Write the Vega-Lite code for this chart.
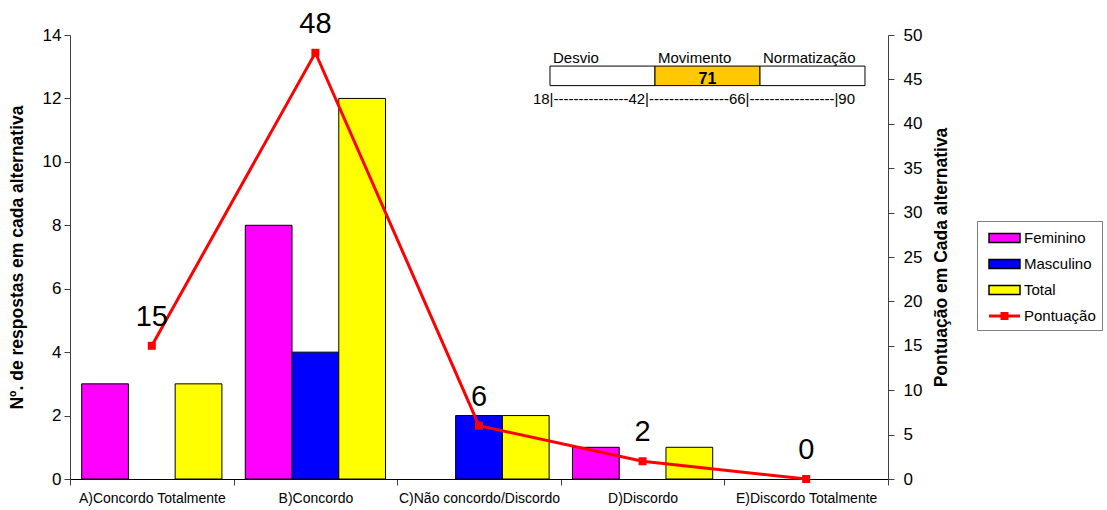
{
  "$schema": "https://vega.github.io/schema/vega-lite/v6.json",
  "width": 818,
  "height": 444,
  "autosize": "none",
  "padding": {"left": 70, "top": 35, "right": 219, "bottom": 31},
  "background": "white",
  "config": {
    "font": "Liberation Sans",
    "view": {"stroke": null},
    "axis": {"grid": false, "domainColor": "#404040", "tickColor": "#404040", "labelColor": "black", "titleColor": "black", "labelFont": "Liberation Sans", "titleFont": "Liberation Sans"}
  },
  "datasets": {
    "respostas": [
      {"alternativa": "A)Concordo Totalmente", "serie": "Feminino", "respostas": 3},
      {"alternativa": "A)Concordo Totalmente", "serie": "Masculino", "respostas": 0},
      {"alternativa": "A)Concordo Totalmente", "serie": "Total", "respostas": 3},
      {"alternativa": "B)Concordo", "serie": "Feminino", "respostas": 8},
      {"alternativa": "B)Concordo", "serie": "Masculino", "respostas": 4},
      {"alternativa": "B)Concordo", "serie": "Total", "respostas": 12},
      {"alternativa": "C)Não concordo/Discordo", "serie": "Feminino", "respostas": 0},
      {"alternativa": "C)Não concordo/Discordo", "serie": "Masculino", "respostas": 2},
      {"alternativa": "C)Não concordo/Discordo", "serie": "Total", "respostas": 2},
      {"alternativa": "D)Discordo", "serie": "Feminino", "respostas": 1},
      {"alternativa": "D)Discordo", "serie": "Masculino", "respostas": 0},
      {"alternativa": "D)Discordo", "serie": "Total", "respostas": 1},
      {"alternativa": "E)Discordo Totalmente", "serie": "Feminino", "respostas": 0},
      {"alternativa": "E)Discordo Totalmente", "serie": "Masculino", "respostas": 0},
      {"alternativa": "E)Discordo Totalmente", "serie": "Total", "respostas": 0}
    ],
    "pontuacao": [
      {"alternativa": "A)Concordo Totalmente", "pontos": 15},
      {"alternativa": "B)Concordo", "pontos": 48},
      {"alternativa": "C)Não concordo/Discordo", "pontos": 6},
      {"alternativa": "D)Discordo", "pontos": 2},
      {"alternativa": "E)Discordo Totalmente", "pontos": 0}
    ],
    "faixas": [
      {"faixa": "Desvio", "ini": 18, "fim": 42},
      {"faixa": "Movimento", "ini": 42, "fim": 66},
      {"faixa": "Normatização", "ini": 66, "fim": 90}
    ],
    "escala": [{"texto": "18|---------------42|----------------66|-----------------|90"}],
    "resultado": [{"valor": 71}]
  },
  "layer": [
    {
      "data": {"name": "respostas"},
      "transform": [{"filter": "datum.respostas > 0"}],
      "mark": {"type": "bar", "stroke": "black", "strokeWidth": 1},
      "encoding": {
        "x": {"field": "alternativa", "type": "nominal",
          "scale": {"domain": ["A)Concordo Totalmente", "B)Concordo", "C)Não concordo/Discordo", "D)Discordo", "E)Discordo Totalmente"], "paddingInner": 0, "paddingOuter": 0},
          "axis": {"title": null, "labelAngle": 0, "tickBand": "extent", "labelFontSize": 14, "labelPadding": 6, "tickSize": 6, "domainColor": "black"}},
        "xOffset": {"field": "serie", "type": "nominal", "scale": {"domain": ["Feminino", "Masculino", "Total"], "paddingInner": 0, "paddingOuter": 0.25}},
        "y": {"field": "respostas", "type": "quantitative", "scale": {"domain": [0, 14], "nice": false},
          "axis": {"title": "Nº. de respostas em cada alternativa", "values": [0, 2, 4, 6, 8, 10, 12, 14], "labelFontSize": 17, "titleFontSize": 17.5, "titleFontWeight": "bold", "titleX": -53, "titleY": 222, "titleAngle": 270, "titleAlign": "center", "titleBaseline": "middle", "tickSize": 6, "labelPadding": 3}},
        "fill": {"field": "serie", "type": "nominal",
          "scale": {"domain": ["Feminino", "Masculino", "Total", "Pontuação"], "range": ["#FF00FF", "#0000FF", "#FFFF00", "#FF0000"]},
          "legend": {"orient": "none", "legendX": 907, "legendY": 186, "title": null, "strokeColor": "#808080", "fillColor": "white", "padding": 6, "symbolSize": 400, "labelFontSize": 15, "labelColor": "black", "labelOffset": 19, "rowPadding": 7,
            "symbolType": {"expr": "datum.label === 'Pontuação' ? 'M-0.5,-0.15H0.65V-0.4H1.45V-0.15H2.6V0.15H1.45V0.4H0.65V0.15H-0.5Z' : 'M-0.5,-0.45H2.6V0.45H-0.5Z'"},
            "symbolStrokeColor": {"expr": "datum.label === 'Pontuação' ? 'transparent' : 'black'"}}}
      }
    },
    {
      "data": {"name": "pontuacao"},
      "mark": {"type": "line", "color": "#FF0000", "strokeWidth": 3, "point": {"shape": "square", "size": 64, "filled": true, "color": "#FF0000", "opacity": 1}},
      "encoding": {
        "x": {"field": "alternativa", "type": "nominal", "sort": null, "axis": null},
        "y": {"field": "pontos", "type": "quantitative", "scale": {"domain": [0, 50], "nice": false},
          "axis": {"orient": "right", "title": "Pontuação em Cada alternativa", "values": [0, 5, 10, 15, 20, 25, 30, 35, 40, 45, 50], "labelFontSize": 17, "titleFontSize": 17.5, "titleFontWeight": "bold", "titleX": 53, "titleY": 222, "titleAngle": 270, "titleAlign": "center", "titleBaseline": "middle", "tickSize": 6, "labelPadding": 9}}
      }
    },
    {
      "data": {"name": "pontuacao"},
      "mark": {"type": "text", "fontSize": 29, "dy": -20, "baseline": "alphabetic", "color": "black"},
      "encoding": {
        "x": {"field": "alternativa", "type": "nominal", "sort": null, "axis": null},
        "y": {"field": "pontos", "type": "quantitative", "scale": {"domain": [0, 50], "nice": false}, "axis": null},
        "text": {"field": "pontos", "type": "quantitative"}
      }
    },
    {
      "data": {"name": "faixas"},
      "mark": {"type": "rect", "stroke": "black", "strokeWidth": 1},
      "encoding": {
        "x": {"field": "ini", "type": "quantitative", "scale": {"domain": [-91.71, 95.26], "nice": false, "zero": false}, "axis": null},
        "x2": {"field": "fim"},
        "y": {"datum": 93.0, "type": "quantitative", "scale": {"domain": [0, 100], "nice": false}, "axis": null},
        "y2": {"datum": 88.6},
        "fill": {"condition": {"test": "datum.faixa === 'Movimento'", "value": "#FFC800"}, "value": "white"}
      }
    },
    {
      "data": {"name": "faixas"},
      "mark": {"type": "text", "fontSize": 15, "align": "left", "baseline": "alphabetic", "dx": 3, "color": "black"},
      "encoding": {
        "x": {"field": "ini", "type": "quantitative", "scale": {"domain": [-91.71, 95.26], "nice": false, "zero": false}, "axis": null},
        "y": {"datum": 93.6, "type": "quantitative", "scale": {"domain": [0, 100], "nice": false}, "axis": null},
        "text": {"field": "faixa"}
      }
    },
    {
      "data": {"name": "resultado"},
      "mark": {"type": "text", "fontSize": 16, "fontWeight": "bold", "align": "center", "baseline": "middle", "color": "black"},
      "encoding": {
        "x": {"datum": 54, "type": "quantitative", "scale": {"domain": [-91.71, 95.26], "nice": false, "zero": false}, "axis": null},
        "y": {"datum": 90.2, "type": "quantitative", "scale": {"domain": [0, 100], "nice": false}, "axis": null},
        "text": {"field": "valor", "type": "quantitative"}
      }
    },
    {
      "data": {"name": "escala"},
      "mark": {"type": "text", "fontSize": 15, "align": "left", "baseline": "middle", "color": "black"},
      "encoding": {
        "x": {"datum": 14.1, "type": "quantitative", "scale": {"domain": [-91.71, 95.26], "nice": false, "zero": false}, "axis": null},
        "y": {"datum": 85.5, "type": "quantitative", "scale": {"domain": [0, 100], "nice": false}, "axis": null},
        "text": {"field": "texto"}
      }
    }
  ],
  "resolve": {"scale": {"x": "independent", "y": "independent"}}
}
